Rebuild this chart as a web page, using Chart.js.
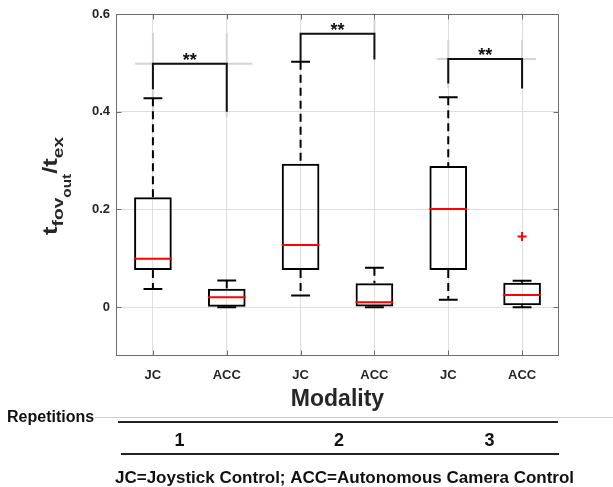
<!DOCTYPE html>
<html><head><meta charset="utf-8">
<script src="https://cdn.jsdelivr.net/npm/chart.js@4/dist/chart.umd.min.js"></script>
<style>html,body{margin:0;padding:0;background:#fff}#wrap{width:613px;height:487px}</style>
</head><body><div id="wrap"><canvas id="c" width="613" height="487"></canvas></div>
<script>
// ---- data ----
const categories = ['JC', 'ACC', 'JC', 'ACC', 'JC', 'ACC'];
const whiskerLow  = [0.037, 0.000, 0.024, 0.000, 0.015, 0.000];
const q1          = [0.076, 0.000, 0.076, 0.0015, 0.076, 0.004];
const median      = [0.099, 0.0205, 0.127, 0.010, 0.201, 0.025];
const q3          = [0.2247, 0.0375, 0.2935, 0.049, 0.2888, 0.050];
const whiskerHigh = [0.4274, 0.0547, 0.5024, 0.0805, 0.4295, 0.054];
const outlierValues = [null, null, null, null, null, 0.1448];
const yTicks = [0, 0.2, 0.4, 0.6];
const yLabelParts = [['t', 0], ['fov', 1], ['out', 2], ['/t', 0], ['ex', 1]];
const xTitle = 'Modality';
const repetitionTitle = 'Repetitions';
const repetitionLabels = ['1', '2', '3'];
const repetitionPos = [0.36, 2.52, 4.56];
const footnote = 'JC=Joystick Control; ACC=Autonomous Camera Control';
// significance brackets (category pairs, values)
const bracketPairs = [[0, 1], [2, 3], [4, 5]];
const bracketTop = [0.498, 0.5595, 0.5077];
const bracketLeftEnd = [0.446, 0.5024, 0.458];
const bracketRightEnd = [0.400, 0.507, 0.4477];
const bracketLabels = ['**', '**', '**'];
// faint guide lines around brackets: [x1, y1, x2, y2] in category/value units
const guideSegments = [
  [-0.24, 0.498, 1.35, 0.498], [0, 0.389, 0, 0.561], [1, 0.389, 1, 0.561],
  [3, 0.5595, 3, 0.588],
  [3.85, 0.5077, 5.19, 0.5077], [4, 0.448, 4, 0.547], [5, 0.448, 5, 0.547]
];

const TXT = '#262626';
const FONT = '"Liberation Sans", Arial, sans-serif';

const boxPlugin = {
  id: 'boxes',
  afterDatasetsDraw(chart) {
    const ctx = chart.ctx, xs = chart.scales.x, ys = chart.scales.y;
    const bars = chart.getDatasetMeta(0).data;
    ctx.save();
    // guides
    ctx.strokeStyle = '#d4d4d4'; ctx.lineWidth = 2;
    guideSegments.forEach(s => {
      ctx.beginPath();
      ctx.moveTo(xs.getPixelForValue(s[0]), ys.getPixelForValue(s[1]));
      ctx.lineTo(xs.getPixelForValue(s[2]), ys.getPixelForValue(s[3]));
      ctx.stroke();
    });
    bars.forEach((b, i) => {
      const cx = b.x, w = b.width;
      const yq1 = ys.getPixelForValue(q1[i]), yq3 = ys.getPixelForValue(q3[i]);
      const ylo = ys.getPixelForValue(whiskerLow[i]), yhi = ys.getPixelForValue(whiskerHigh[i]);
      ctx.strokeStyle = '#000'; ctx.lineWidth = 2;
      ctx.setLineDash([8, 5]);
      ctx.beginPath();
      if (yhi < yq3 - 1) { ctx.moveTo(cx, yhi); ctx.lineTo(cx, yq3); }
      if (ylo > yq1 + 1) { ctx.moveTo(cx, yq1); ctx.lineTo(cx, ylo); }
      ctx.stroke();
      ctx.setLineDash([]);
      ctx.beginPath();
      ctx.moveTo(cx - w / 4, yhi); ctx.lineTo(cx + w / 4, yhi);
      ctx.moveTo(cx - w / 4, ylo); ctx.lineTo(cx + w / 4, ylo);
      ctx.stroke();
      const ym = ys.getPixelForValue(median[i]);
      ctx.strokeStyle = '#ff0000';
      ctx.beginPath(); ctx.moveTo(cx - w / 2, ym); ctx.lineTo(cx + w / 2, ym); ctx.stroke();
    });
    // brackets
    ctx.strokeStyle = '#111'; ctx.lineWidth = 2;
    ctx.fillStyle = '#111';
    ctx.font = 'bold 18px ' + FONT; ctx.textAlign = 'center'; ctx.textBaseline = 'middle';
    bracketPairs.forEach((p, k) => {
      const xa = xs.getPixelForValue(p[0]), xb = xs.getPixelForValue(p[1]);
      const yt = ys.getPixelForValue(bracketTop[k]);
      ctx.beginPath();
      ctx.moveTo(xa, ys.getPixelForValue(bracketLeftEnd[k]));
      ctx.lineTo(xa, yt); ctx.lineTo(xb, yt);
      ctx.lineTo(xb, ys.getPixelForValue(bracketRightEnd[k]));
      ctx.stroke();
      ctx.fillText(bracketLabels[k], (xa + xb) / 2, yt - 3);
    });
    ctx.restore();
  },
  afterDraw(chart) {
    const ctx = chart.ctx, xs = chart.scales.x, ys = chart.scales.y, a = chart.chartArea;
    ctx.save();
    // frame
    ctx.strokeStyle = '#6e6e6e'; ctx.lineWidth = 1;
    const L = Math.round(a.left) + 0.5, R = Math.round(a.right) - 0.5, T = Math.round(a.top) + 0.5, B = Math.round(a.bottom) - 0.5;
    ctx.strokeRect(L, T, R - L, B - T);
    ctx.beginPath();
    yTicks.forEach(v => {
      const yy = Math.round(ys.getPixelForValue(v)) + 0.5;
      ctx.moveTo(L, yy); ctx.lineTo(L + 5, yy);
      ctx.moveTo(R, yy); ctx.lineTo(R - 5, yy);
    });
    categories.forEach((c, i) => {
      const xx = Math.round(xs.getPixelForValue(i)) + 0.5;
      ctx.moveTo(xx, B); ctx.lineTo(xx, B - 5);
      ctx.moveTo(xx, T); ctx.lineTo(xx, T + 5);
    });
    ctx.stroke();
    // y label with subscripts
    ctx.fillStyle = TXT;
    ctx.translate(57, 235);
    ctx.rotate(-Math.PI / 2);
    ctx.scale(1.28, 1);
    ctx.textAlign = 'left'; ctx.textBaseline = 'alphabetic';
    const sizes = [20, 15, 12], shifts = [0, 6, 14];
    let pos = 0;
    yLabelParts.forEach(([t, lvl]) => {
      ctx.font = 'bold ' + sizes[lvl] + 'px ' + FONT;
      ctx.fillText(t, pos, shifts[lvl]);
      pos += ctx.measureText(t).width;
    });
    ctx.setTransform(1, 0, 0, 1, 0, 0);
    // x title
    ctx.textAlign = 'center'; ctx.textBaseline = 'middle';
    ctx.font = 'bold 23px ' + FONT;
    ctx.fillText(xTitle, (a.left + a.right) / 2, 400);
    // repetitions
    ctx.textAlign = 'left'; ctx.textBaseline = 'alphabetic';
    ctx.font = 'bold 16px ' + FONT;
    ctx.fillStyle = '#111';
    ctx.fillText(repetitionTitle, 7, 422);
    ctx.strokeStyle = '#cfcfcf'; ctx.lineWidth = 1;
    ctx.beginPath(); ctx.moveTo(95, 417.5); ctx.lineTo(613, 417.5); ctx.stroke();
    ctx.strokeStyle = '#222'; ctx.lineWidth = 2;
    ctx.beginPath();
    ctx.moveTo(a.left + 2, 422); ctx.lineTo(a.right - 1, 422);
    ctx.moveTo(a.left + 5, 454); ctx.lineTo(a.right, 454);
    ctx.stroke();
    ctx.textAlign = 'center';
    ctx.font = 'bold 18px ' + FONT;
    repetitionLabels.forEach((t, i) => ctx.fillText(t, xs.getPixelForValue(repetitionPos[i]), 446));
    ctx.textAlign = 'left';
    ctx.font = 'bold 17px ' + FONT;
    ctx.fillText(footnote, 115, 483);
    ctx.restore();
  }
};

new Chart(document.getElementById('c'), {
  type: 'bar',
  data: {
    labels: categories,
    datasets: [
      {
        type: 'bar',
        data: q1.map((v, i) => [v, q3[i]]),
        backgroundColor: 'rgba(0,0,0,0)',
        borderColor: '#000',
        borderWidth: 2,
        borderSkipped: false,
        categoryPercentage: 1,
        barPercentage: 0.51
      },
      {
        type: 'line',
        data: outlierValues,
        showLine: false,
        pointStyle: 'cross',
        pointRadius: 4.5,
        pointBorderWidth: 2,
        borderColor: '#ff0000',
        backgroundColor: '#ff0000'
      }
    ]
  },
  options: {
    responsive: false,
    animation: false,
    devicePixelRatio: 1,
    layout: { padding: { left: 0, right: 54, top: 14, bottom: 0 } },
    plugins: { legend: { display: false }, tooltip: { enabled: false } },
    scales: {
      x: {
        offset: true,
        grid: { offset: false, color: '#dedede', drawTicks: false },
        border: { display: false },
        ticks: { color: TXT, font: { family: FONT, size: 13, weight: 'bold' }, padding: 12 },
        afterFit: s => { s.height = 131; }
      },
      y: {
        min: -0.1, max: 0.6,
        afterBuildTicks: s => { s.ticks = yTicks.map(v => ({ value: v })); },
        grid: { color: '#dedede', drawTicks: false },
        border: { display: false },
        ticks: {
          color: TXT, font: { family: FONT, size: 13, weight: 'bold' }, padding: 6,
          callback: v => (v === 0 ? '0' : v.toFixed(1))
        },
        afterFit: s => { s.width = 116; }
      }
    }
  },
  plugins: [boxPlugin]
});
</script></body></html>
